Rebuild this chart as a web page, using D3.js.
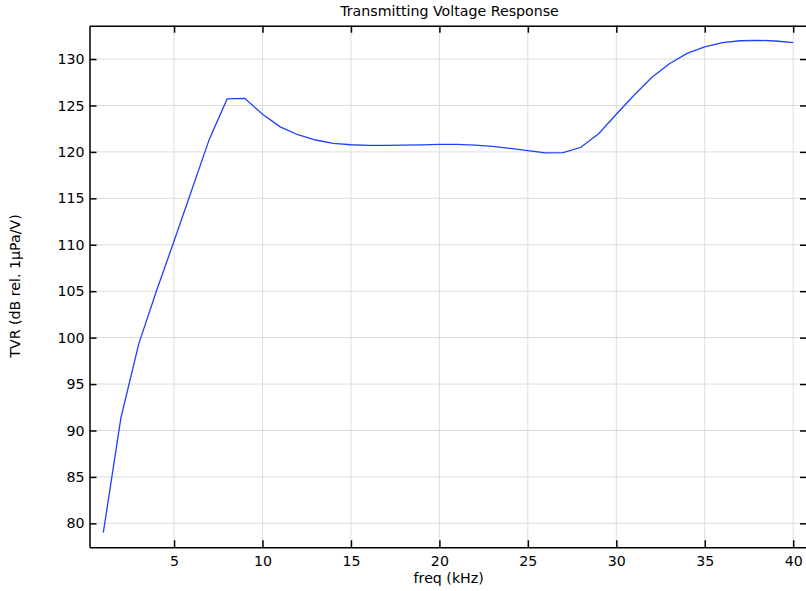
<!DOCTYPE html>
<html><head><meta charset="utf-8">
<script src="https://cdn.jsdelivr.net/npm/d3@7"></script>
<style>body{margin:0;background:#fff;}svg{display:block;font-family:"DejaVu Sans",sans-serif;}</style>
</head><body>
<svg id="c" width="806" height="591"></svg>
<script>
const freq = [1,2,3,4,5,6,7,8,9,10,11,12,13,14,15,16,17,18,19,20,21,22,23,24,25,26,27,28,29,30,31,32,33,34,35,36,37,38,39,40];
const tvr = [79.0,91.4,99.3,105.0,110.4,115.9,121.4,125.7,125.77,124.05,122.7,121.85,121.28,120.92,120.77,120.7,120.7,120.72,120.76,120.8,120.8,120.74,120.6,120.38,120.14,119.9,119.92,120.5,121.95,124.05,126.1,128.0,129.5,130.6,131.3,131.76,131.97,132.02,131.94,131.76];
const xTicks = [5,10,15,20,25,30,35,40];
const yTicks = [80,85,90,95,100,105,110,115,120,125,130];
const title = "Transmitting Voltage Response";
const xLabel = "freq (kHz)";
const yLabel = "TVR (dB rel. 1µPa/V)";

const svg = d3.select("#c");
const m = {l:89.5, t:25.7, r:807, b:547.3};
const x = d3.scaleLinear().domain([0.22, 40.78]).range([m.l, m.r]);
const y = d3.scaleLinear().domain([77.42, 133.59]).range([m.b, m.t]);

const grid = svg.append("g").attr("stroke","#dcdcdc").attr("stroke-width",1);
grid.selectAll("line.v").data(xTicks).join("line")
  .attr("x1",d=>x(d)).attr("x2",d=>x(d)).attr("y1",m.t).attr("y2",m.b);
grid.selectAll("line.h").data(yTicks).join("line")
  .attr("x1",m.l).attr("x2",m.r).attr("y1",d=>y(d)).attr("y2",d=>y(d));

const tl = 7;
const fs = 14.2;
const gBottom = svg.append("g").attr("transform",`translate(0,${m.b})`)
  .call(d3.axisBottom(x).tickValues(xTicks).tickSizeInner(-tl).tickSizeOuter(0).tickPadding(9));
const gTop = svg.append("g").attr("transform",`translate(0,${m.t})`)
  .call(d3.axisTop(x).tickValues(xTicks).tickSizeInner(-tl).tickSizeOuter(0).tickFormat(""));
const gLeft = svg.append("g").attr("transform",`translate(${m.l},0)`)
  .call(d3.axisLeft(y).tickValues(yTicks).tickSizeInner(-tl).tickSizeOuter(0).tickPadding(5));
const gRight = svg.append("g").attr("transform",`translate(${m.r},0)`)
  .call(d3.axisRight(y).tickValues(yTicks).tickSizeInner(-tl).tickSizeOuter(0).tickFormat(""));
[gBottom,gTop,gLeft,gRight].forEach(g=>{
  g.selectAll("path").attr("stroke","#000").attr("stroke-width",1.5);
  g.selectAll("line").attr("stroke","#000").attr("stroke-width",1.5);
  g.selectAll("text").attr("font-size",fs).attr("font-family","DejaVu Sans").attr("fill","#000");
});

svg.append("path").datum(freq.map((f,i)=>[f,tvr[i]]))
  .attr("fill","none").attr("stroke","#1f40ff").attr("stroke-width",1.3)
  .attr("d", d3.line().x(d=>x(d[0])).y(d=>y(d[1])));

svg.append("text").attr("x",449.5).attr("y",16).attr("text-anchor","middle")
  .attr("font-size",fs).text(title);
svg.append("text").attr("x",448.7).attr("y",583).attr("text-anchor","middle")
  .attr("font-size",fs).text(xLabel);
svg.append("text").attr("transform","translate(20,286) rotate(-90)").attr("text-anchor","middle")
  .attr("font-size",fs).text(yLabel);
</script>
</body></html>
